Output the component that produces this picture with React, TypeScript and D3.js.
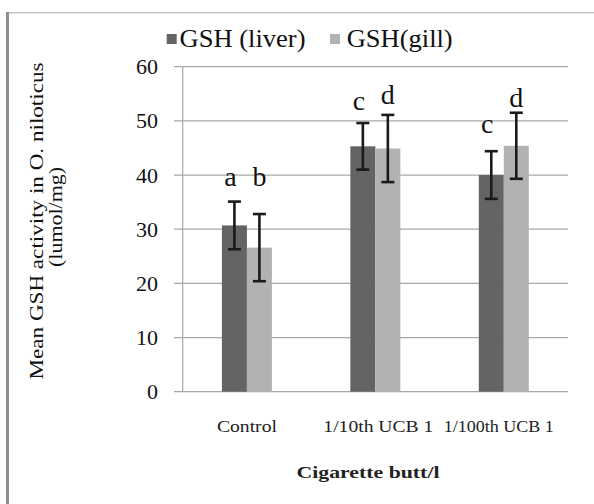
import React from "react";
import * as d3 from "d3";

const categories = ["Control", "1/10th UCB 1", "1/100th UCB 1"];
const seriesNames = ["GSH (liver)", "GSH(gill)"];
const liverMeans = [30.7, 45.3, 40.0];
const gillMeans = [26.6, 44.9, 45.4];
const liverErr = [4.4, 4.3, 4.4];
const gillErr = [6.2, 6.2, 6.1];
const liverLetters = ["a", "c", "c"];
const gillLetters = ["b", "d", "d"];
const liverLetterY = [38.0, 52.0, 47.8];
const gillLetterY = [38.0, 53.1, 52.6];
const yTicks = [0, 10, 20, 30, 40, 50, 60];

const W = 594;
const H = 504;
const plot = { left: 182.7, right: 568, top: 66.7, bottom: 391.7 };
const colors = ["#646464", "#b2b2b2"];
const serif = "'Liberation Serif', 'Times New Roman', serif";

export default function App() {
  const y = d3.scaleLinear().domain([0, 60]).range([plot.bottom, plot.top]);
  const x0 = d3.scaleBand<string>().domain(categories).range([plot.left, plot.right]);
  const groupW = 50;
  const x1 = d3.scaleBand<string>().domain(seriesNames).range([0, groupW]);
  const means = [liverMeans, gillMeans];
  const errs = [liverErr, gillErr];
  const letters = [liverLetters, gillLetters];
  const letterY = [liverLetterY, gillLetterY];
  const catLen = [60, 110, 110];
  const catShift = [0, 3, -5];

  return (
    <svg
      width={W}
      height={H}
      style={{ position: "absolute", left: 0, top: 0, background: "#fff", display: "block" }}
      fontFamily={serif}
    >
      <rect x={0} y={0} width={W} height={H} fill="#fff" />
      {/* outer frame */}
      <line x1={6} x2={W} y1={12.7} y2={12.7} stroke="#c4c4c4" strokeWidth={1.5} />
      <line x1={7.5} x2={7.5} y1={12} y2={H} stroke="#8e8e8e" strokeWidth={3} />

      {/* gridlines */}
      {yTicks.map((t) => (
        <g key={t}>
          <line x1={plot.left - 8.7} x2={plot.right} y1={y(t)} y2={y(t)} stroke="#a8a8a8" strokeWidth={1.2} />
          <text x={158} y={y(t)} dy="0.34em" textAnchor="end" fontSize={22} fill="#111">
            {t}
          </text>
        </g>
      ))}
      <line x1={plot.left} x2={plot.left} y1={plot.top} y2={plot.bottom} stroke="#a8a8a8" strokeWidth={1.2} />

      {/* bars */}
      {categories.map((c, i) => {
        const gx = (x0(c) as number) + x0.bandwidth() / 2 - groupW / 2;
        return (
          <g key={c}>
            {seriesNames.map((s, k) => {
              const bx = gx + (x1(s) as number);
              const bw = x1.bandwidth();
              const v = means[k][i];
              return (
                <rect key={s} x={bx} y={y(v)} width={bw} height={y(0) - y(v)} fill={colors[k]} />
              );
            })}
            {seriesNames.map((s, k) => {
              const cx = gx + (x1(s) as number) + x1.bandwidth() / 2;
              const v = means[k][i];
              const e = errs[k][i];
              return (
                <g key={s + "e"} stroke="#1a1a1a" strokeWidth={2.6}>
                  <line x1={cx} x2={cx} y1={y(v + e)} y2={y(v - e)} />
                  <line x1={cx - 6.5} x2={cx + 6.5} y1={y(v + e)} y2={y(v + e)} />
                  <line x1={cx - 6.5} x2={cx + 6.5} y1={y(v - e)} y2={y(v - e)} />
                </g>
              );
            })}
            {seriesNames.map((s, k) => {
              const cx = gx + (x1(s) as number) + x1.bandwidth() / 2;
              return (
                <text key={s + "l"} x={cx - (k === 0 ? 4 : 0)} y={y(letterY[k][i])} textAnchor="middle" fontSize={28} fill="#111">
                  {letters[k][i]}
                </text>
              );
            })}
            <text
              x={(x0(c) as number) + x0.bandwidth() / 2 + catShift[i]}
              y={432}
              textAnchor="middle"
              fontSize={16}
              fill="#222"
              textLength={catLen[i]}
              lengthAdjust="spacingAndGlyphs"
            >
              {c}
            </text>
          </g>
        );
      })}

      {/* legend */}
      <rect x={166.7} y={34} width={10} height={10} fill={colors[0]} />
      <text x={179.5} y={47} fontSize={25} fill="#111" textLength={126} lengthAdjust="spacingAndGlyphs">
        {seriesNames[0]}
      </text>
      <rect x={330} y={34} width={10} height={10} fill={colors[1]} />
      <text x={346.7} y={47} fontSize={25} fill="#111" textLength={106} lengthAdjust="spacingAndGlyphs">
        {seriesNames[1]}
      </text>

      {/* axis titles */}
      <text x={368} y={478} textAnchor="middle" fontSize={17} fontWeight="bold" fill="#222" textLength={143} lengthAdjust="spacingAndGlyphs">
        Cigarette butt/l
      </text>
      <g transform="translate(43,221) rotate(-90)">
        <text x={0} y={0} textAnchor="middle" fontSize={19} fill="#111" textLength={317} lengthAdjust="spacingAndGlyphs">
          Mean GSH activity in O. niloticus
        </text>
      </g>
      <g transform="translate(62,217) rotate(-90)">
        <text x={0} y={0} textAnchor="middle" fontSize={19} fill="#111" textLength={100} lengthAdjust="spacingAndGlyphs">
          (lumol/mg)
        </text>
      </g>
    </svg>
  );
}
